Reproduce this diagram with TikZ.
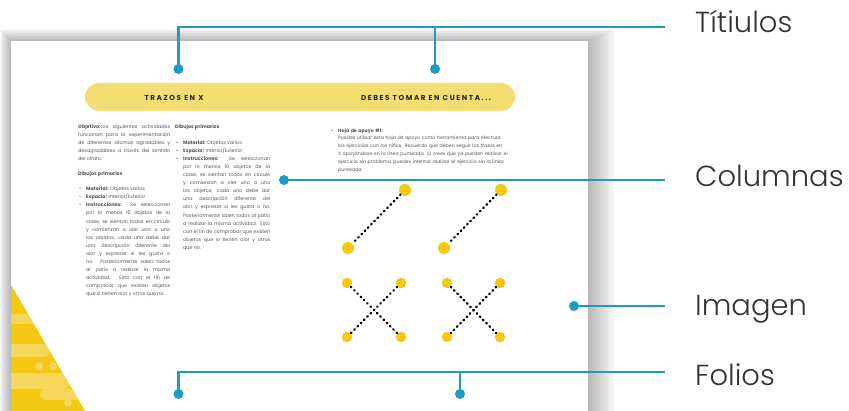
\documentclass[tikz,border=0pt]{standalone}
\usepackage{fontspec}
\setmainfont{Poppins}
\newfontfamily\thinfont{Poppins Light}
\usetikzlibrary{positioning}
\definecolor{hiliteblue}{HTML}{1F9AC5}
\definecolor{pillyellow}{HTML}{F4DD72}
\definecolor{dotyellow}{HTML}{F2C812}
\definecolor{stripeyellow}{HTML}{F6D75C}
\definecolor{bodygrey}{HTML}{555555}
\newcommand{\nohyph}{\hyphenpenalty=10000\relax\exhyphenpenalty=10000\relax}
\newcommand{\bitem}[1]{\par{\leftskip=8pt\noindent\llap{\makebox[8pt][l]{\hspace{1pt}\textbullet}}#1\par}}
\newcommand{\ybullet}{{\color{dotyellow}\textbullet}}
\begin{document}
\begin{tikzpicture}[x=1pt,y=-1pt,
  bdot/.style={circle,fill=hiliteblue,inner sep=0pt,minimum size=10pt},
  ydot/.style={circle,fill=dotyellow,inner sep=0pt,minimum size=12pt},
  xdot/.style={circle,fill=dotyellow,inner sep=0pt,minimum size=10.5pt},
  pointer/.style={draw=hiliteblue,line width=2.4pt},
  dotline/.style={line width=2.3pt,line cap=round,dash pattern=on 0.8pt off 3.8pt},
  lbl/.style={anchor=base west,inner sep=0pt,font=\thinfont\fontsize{29}{29}\selectfont,text=black!80},
  column/.style={anchor=north west,inner sep=0pt,align=justify,text=bodygrey,
    font=\fontsize{4.85}{8.1}\selectfont\nohyph},
  pilltext/.style={font=\bfseries\fontsize{7.2}{7}\selectfont\addfontfeature{LetterSpace=22},text=black!85}]
\useasboundingbox (0,0) rectangle (849,411);
% page with its shadow
\foreach \i in {1,...,16}
  \fill[black,opacity=0.02] (11-\i*0.7,41-\i*0.75) rectangle (588+\i*1.7,420);
\fill[white] (11,41) rectangle (588,420);
% yellow corner
\begin{scope}
  \clip (11,285) -- (85,411) -- (11,411) -- cycle;
  \fill[dotyellow] (11,285) rectangle (90,411);
  \fill[stripeyellow,rounded corners=4pt] (0,314) rectangle (34,324);
  \fill[stripeyellow,rounded corners=6pt] (0,344) rectangle (50,357);
  \fill[stripeyellow] (42,350) circle (4);
  \fill[stripeyellow] (39,366) circle (4);
  \fill[stripeyellow] (53,366) circle (4);
  \fill[stripeyellow,rounded corners=7pt] (0,373) rectangle (70,389);
  \fill[stripeyellow,rounded corners=5pt] (40,389) rectangle (90,400);
  \fill[stripeyellow] (68,403) circle (4);
\end{scope}
% title bar
\fill[pillyellow,rounded corners=14pt] (85,83) rectangle (515,111);
\node[pilltext] (tit1) at (174,97.5) {TRAZOS EN X};
\node[pilltext] (tit2) at (426,97.5) {DEBES TOMAR EN CUENTA...};
% columns
\node[column,text width=92pt] (colA) at (78,124) {%
  \textbf{Objetivo:}Los siguientes actividades funcionan para la experimentación de diferentes aromas agradables y desagradables a través del sentido del olfato.\par
  \vspace{7pt}\noindent\llap{\ybullet}\textbf{Dibujos primarios}\par\vspace{7pt}
  \bitem{\textbf{Material:} Objetos varios}
  \bitem{\textbf{Espacio:} Interior/Exterior}
  \bitem{\textbf{Instrucciones:} Se seleccionan por lo menos 10 objetos de la clase, se sientan todos en circulo y comienzan a oler uno a uno los objetos, cada uno debe dar una descripción diferente del olor y expresar si les gusta o no. Posteriormente salen todos al patio a realizar la misma actividad. Esto con el fin de comprobar que existen objetos que si tienen olor y otros que no.}};
\node[column,text width=95pt] (colB) at (175,124) {%
  \noindent\llap{\ybullet}\textbf{Dibujos primarios}\par\vspace{8pt}
  \bitem{\textbf{Material:} Objetos varios}
  \bitem{\textbf{Espacio:} Interior/Exterior}
  \bitem{\textbf{Instrucciones:} Se seleccionan por lo menos 10 objetos de la clase, se sientan todos en circulo y comienzan a oler uno a uno los objetos, cada uno debe dar una descripción diferente del olor y expresar si les gusta o no. Posteriormente salen todos al patio a realizar la misma actividad. Esto con el fin de comprobar que existen objetos que si tienen olor y otros que no.}};
\node[column,text width=180pt,align=left,font=\fontsize{4.7}{7.9}\selectfont\nohyph] (colC) at (330,124) {%
  \bitem{\textbf{Hoja de apoyo \#1:}\\ Puedes utilizar esta hoja de apoyo como herramienta para efectuar los ejercicios con los niños. Recuerda que deben seguir los trazos en X apoyándose en la línea punteada. Si crees que ya pueden realizar el ejercicio sin problema, puedes intentar realizar el ejercicio sin la línea punteada.}};
% tracing sheet
\node[ydot] (a1) at (405,190) {};
\node[ydot] (a2) at (348,248) {};
\node[ydot] (b1) at (501,190) {};
\node[ydot] (b2) at (444,248) {};
\node[xdot] (c1) at (347,283) {};
\node[xdot] (c2) at (401,283) {};
\node[xdot] (c3) at (347,337) {};
\node[xdot] (c4) at (401,337) {};
\node[xdot] (e1) at (447,283) {};
\node[xdot] (e2) at (500,283) {};
\node[xdot] (e3) at (447,337) {};
\node[xdot] (e4) at (500,337) {};
\draw[dotline] (a1) -- (a2);
\draw[dotline] (b1) -- (b2);
\draw[dotline] (c1) -- (c4);
\draw[dotline] (c2) -- (c3);
\draw[dotline] (e1) -- (e4);
\draw[dotline] (e2) -- (e3);
% pointers and labels
\node[bdot] (p1) at (178.5,69) {};
\node[bdot] (p2) at (435,69) {};
\coordinate (q1) at (665,27);
\draw[pointer] (p1.center) |- (q1);
\draw[pointer] (p2.center) -- (p2.center |- q1);
\node[lbl] (l1) at (695,33) {Títiulos};
\node[bdot] (p3) at (284,180) {};
\coordinate (q3) at (665,180);
\draw[pointer] (p3.center) -- (q3);
\node[lbl] (l3) at (695,187) {Columnas};
\node[bdot] (p4) at (574,306) {};
\coordinate (q4) at (665,306);
\draw[pointer] (p4.center) -- (q4);
\node[lbl] (l4) at (695,316) {Imagen};
\node[bdot] (p5) at (178.5,394) {};
\node[bdot] (p6) at (460,394) {};
\coordinate (q5) at (665,372);
\draw[pointer] (p5.center) |- (q5);
\draw[pointer] (p6.center) -- (p6.center |- q5);
\node[lbl] (l5) at (695,386) {Folios};
\end{tikzpicture}
\end{document}
